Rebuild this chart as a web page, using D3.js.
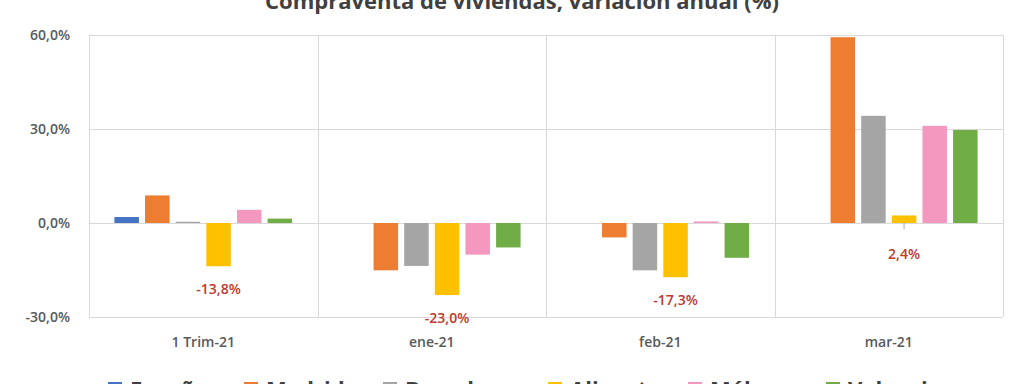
<!DOCTYPE html>
<html lang="es">
  <head>
    <meta charset="utf-8">
    <title>Compraventa de viviendas</title>
    <script src="https://d3js.org/d3.v7.min.js"></script>
    <style>
      body { margin: 0; background: #fff; }
      text { font-family: "Open Sans", "Noto Sans", sans-serif; }
    </style>
  </head>
  <body>
    <script>

      var w = 1024;
      var h = 384;

      // data
      var categories = ["1 Trim-21", "ene-21", "feb-21", "mar-21"];
      var series = ["España", "Madrid", "Barcelona", "Alicante", "Málaga", "Valencia"];
      var colors = ["#4472C4", "#ED7D31", "#A5A5A5", "#FFC000", "#F598C0", "#70AD47"];
      var espana    = [1.9, 0, 0, 0];
      var madrid    = [8.8, -15.1, -4.6, 59.3];
      var barcelona = [0.4, -13.7, -15.1, 34.2];
      var alicante  = [-13.8, -23.0, -17.3, 2.4];
      var malaga    = [4.2, -10.1, 0.5, 31.0];
      var valencia  = [1.4, -7.8, -11.1, 29.7];
      var yTicks = [-30, 0, 30, 60];
      var labelSeries = "Alicante";

      var values = [espana, madrid, barcelona, alicante, malaga, valencia];

      var svg = d3.select("body").append("svg")
          .attr("width", w)
          .attr("height", h);

      var x = d3.scaleBand()
          .domain(categories)
          .range([89, 1003]);

      var xs = d3.scaleBand()
          .domain(series)
          .range([0, x.bandwidth()])
          .paddingInner(0.2)
          .paddingOuter(0.83);

      var y = d3.scaleLinear()
          .domain([-30, 60])
          .range([317, 35]);

      // spanish style: comma decimal, plain hyphen
      var fmt = function(v) {
        return (v < 0 ? "-" : "") + Math.abs(v).toFixed(1).replace(".", ",") + "%";
      };

      // title (cut off at the top, as in the picture)
      svg.append("text")
          .attr("x", 522)
          .attr("y", 9)
          .attr("text-anchor", "middle")
          .attr("font-size", 22)
          .attr("font-weight", 700)
          .attr("fill", "#404040")
          .text("Compraventa de viviendas, variación anual (%)");

      // gridlines
      svg.append("g").selectAll("line")
          .data(yTicks)
          .enter().append("line")
          .attr("x1", x.range()[0])
          .attr("x2", x.range()[1])
          .attr("y1", function(d) { return y(d) + 0.5; })
          .attr("y2", function(d) { return y(d) + 0.5; })
          .attr("stroke", "#D9D9D9");

      var bounds = categories.map(function(c) { return x(c); }).concat([x.range()[1]]);
      svg.append("g").selectAll("line")
          .data(bounds)
          .enter().append("line")
          .attr("x1", function(d) { return Math.round(d) + 0.5; })
          .attr("x2", function(d) { return Math.round(d) + 0.5; })
          .attr("y1", y(60))
          .attr("y2", y(-30))
          .attr("stroke", "#D9D9D9");

      // y axis labels
      svg.append("g").selectAll("text")
          .data(yTicks)
          .enter().append("text")
          .attr("x", 70)
          .attr("y", function(d) { return y(d) + 5; })
          .attr("text-anchor", "end")
          .attr("font-size", 14)
          .attr("font-weight", 600)
          .attr("fill", "#595959")
          .text(fmt);

      // bars
      var groups = svg.append("g").selectAll("g")
          .data(categories)
          .enter().append("g")
          .attr("transform", function(c) { return "translate(" + x(c) + ",0)"; });

      groups.selectAll("rect")
          .data(function(c, ci) {
            return series.map(function(s, si) { return {s: s, i: si, v: values[si][ci]}; });
          })
          .enter().append("rect")
          .attr("x", function(d) { return xs(d.s); })
          .attr("width", xs.bandwidth())
          .attr("y", function(d) { return y(Math.max(0, d.v)); })
          .attr("height", function(d) { return Math.abs(y(d.v) - y(0)); })
          .attr("fill", function(d) { return colors[d.i]; });

      // data labels for Alicante
      var li = series.indexOf(labelSeries);
      groups.append("text")
          .attr("x", function(c) { return xs(labelSeries) + xs.bandwidth() / 2; })
          .attr("y", function(c, ci) {
            var v = values[li][ci];
            return v < 0 ? y(v) + 28 : y(0) + 36;
          })
          .attr("text-anchor", "middle")
          .attr("font-size", 14)
          .attr("font-weight", 600)
          .attr("fill", "#C0392B")
          .text(function(c, ci) { return fmt(values[li][ci]); });

      // small leader line for the positive label
      groups.filter(function(c, ci) { return values[li][ci] > 0; })
          .append("line")
          .attr("x1", xs(labelSeries) + xs.bandwidth() / 2)
          .attr("x2", xs(labelSeries) + xs.bandwidth() / 2)
          .attr("y1", y(0))
          .attr("y2", y(0) + 6)
          .attr("stroke", "#A5A5A5");

      // category labels
      svg.append("g").selectAll("text")
          .data(categories)
          .enter().append("text")
          .attr("x", function(c) { return x(c) + x.bandwidth() / 2; })
          .attr("y", 347)
          .attr("text-anchor", "middle")
          .attr("font-size", 14)
          .attr("font-weight", 600)
          .attr("fill", "#595959")
          .text(function(c) { return c; });

      // legend (cut off at the bottom, as in the picture)
      var legendX = [108, 244, 383, 548, 688, 826];
      var legend = svg.append("g").selectAll("g")
          .data(series)
          .enter().append("g")
          .attr("transform", function(d, i) { return "translate(" + legendX[i] + ",382)"; });

      legend.append("rect")
          .attr("width", 14)
          .attr("height", 14)
          .attr("fill", function(d, i) { return colors[i]; });

      legend.append("text")
          .attr("x", 22)
          .attr("y", 15)
          .attr("font-size", 22)
          .attr("font-weight", 700)
          .attr("fill", "#404040")
          .text(function(d) { return d; });

    </script>
  </body>
</html>
